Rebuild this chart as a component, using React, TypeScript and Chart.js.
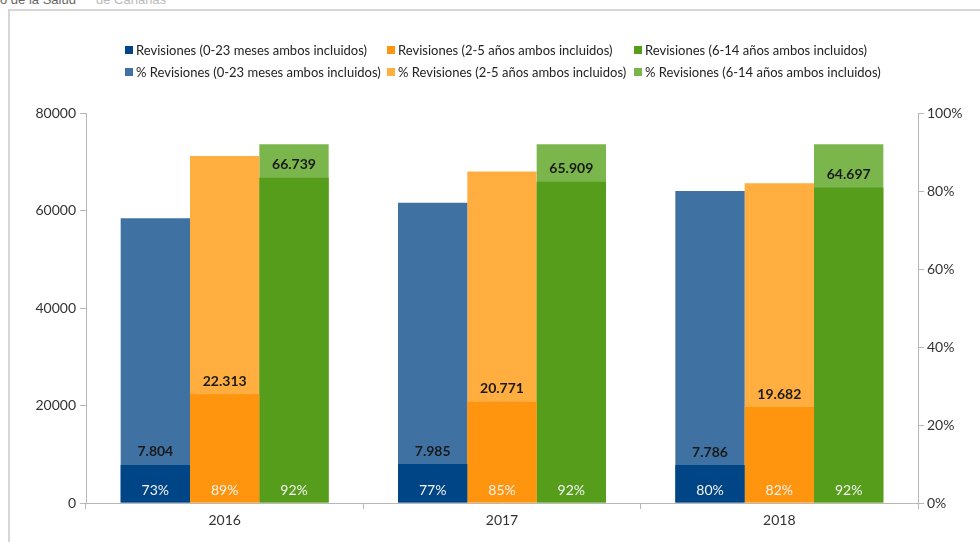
import React, { useEffect, useRef } from 'react';
import { Chart, registerables } from 'chart.js';

Chart.register(...registerables);

const FONT = 'Lato, "DejaVu Sans", sans-serif';

const categories = ['2016', '2017', '2018'];
const seriesLabels = [
  'Revisiones (0-23 meses ambos incluidos)',
  'Revisiones (2-5 años ambos incluidos)',
  'Revisiones (6-14 años ambos incluidos)',
];
const pctSeriesLabels = [
  '% Revisiones (0-23 meses ambos incluidos)',
  '% Revisiones (2-5 años ambos incluidos)',
  '% Revisiones (6-14 años ambos incluidos)',
];
const counts0to23 = [7804, 7985, 7786];
const counts2to5 = [22313, 20771, 19682];
const counts6to14 = [66739, 65909, 64697];
const pct0to23 = [73, 77, 80];
const pct2to5 = [89, 85, 82];
const pct6to14 = [92, 92, 92];

const darkColors = ['#004586', '#ff950e', '#579d1c'];
const lightColors = ['#3f72a3', '#ffae3f', '#7bb64c'];
const stacks = ['a', 'b', 'c'];

const fmt = (n: number) => String(n).replace(/\B(?=(\d{3})+(?!\d))/g, '.');

export default function App() {
  const ref = useRef<HTMLCanvasElement>(null);

  useEffect(() => {
    if (!ref.current) return;
    const labelPlugin = {
      id: 'barLabels',
      afterDatasetsDraw(chart: any) {
        const ctx = chart.ctx;
        chart.data.datasets.forEach((ds: any, i: number) => {
          const meta = chart.getDatasetMeta(i);
          meta.data.forEach((bar: any, j: number) => {
            const v = ds.data[j] as number;
            ctx.save();
            ctx.textAlign = 'center';
            ctx.textBaseline = 'middle';
            if (ds.yAxisID === 'y') {
              ctx.font = `bold 14px ${FONT}`;
              ctx.fillStyle = '#1a1a1a';
              ctx.fillText(fmt(v), bar.x, bar.y - 13);
            } else {
              ctx.font = `14px ${FONT}`;
              ctx.fillStyle = '#f4f4f4';
              ctx.fillText(v + '%', bar.x, bar.base - 12);
            }
            ctx.restore();
          });
        });
      },
    };

    const countSeries = [counts0to23, counts2to5, counts6to14];
    const pctSeries = [pct0to23, pct2to5, pct6to14];
    const datasets: any[] = [];
    countSeries.forEach((d, i) => {
      datasets.push({
        label: seriesLabels[i],
        data: d,
        backgroundColor: darkColors[i],
        yAxisID: 'y',
        stack: stacks[i],
        order: 0,
      });
    });
    pctSeries.forEach((d, i) => {
      datasets.push({
        label: pctSeriesLabels[i],
        data: d,
        backgroundColor: lightColors[i],
        yAxisID: 'y1',
        stack: stacks[i],
        order: 1,
      });
    });

    const tickFont = { family: FONT, size: 14 };
    const axisColor = '#b8b8b8';

    const chart = new Chart(ref.current, {
      type: 'bar',
      data: { labels: categories, datasets },
      options: {
        responsive: false,
        animation: false,
        devicePixelRatio: 1,
        categoryPercentage: 0.75,
        barPercentage: 1,
        layout: { padding: { top: 113, left: 0, right: 0, bottom: 0 } },
        plugins: {
          legend: { display: false },
          tooltip: { enabled: false },
        },
        scales: {
          x: {
            grid: {
              display: true,
              drawOnChartArea: false,
              drawTicks: true,
              tickLength: 6,
              color: axisColor,
              offset: true,
            },
            border: { display: true, color: axisColor },
            ticks: { font: tickFont, color: '#333', padding: 3 },
            afterFit: (s: any) => {
              s.height = 39;
            },
          },
          y: {
            position: 'left',
            min: 0,
            max: 80000,
            stacked: false,
            ticks: {
              stepSize: 20000,
              font: tickFont,
              color: '#333',
              padding: 4,
              callback: (v: any) => String(v),
            },
            grid: { drawOnChartArea: false, tickLength: 6, color: axisColor },
            border: { display: true, color: axisColor },
            afterFit: (s: any) => {
              s.width = 86;
            },
          },
          y1: {
            position: 'right',
            min: 0,
            max: 100,
            stacked: false,
            ticks: {
              stepSize: 20,
              font: tickFont,
              color: '#333',
              padding: 3,
              callback: (v: any) => v + '%',
            },
            grid: { drawOnChartArea: false, tickLength: 6, color: axisColor },
            border: { display: true, color: axisColor },
            afterFit: (s: any) => {
              s.width = 62;
            },
          },
        } as any,
      },
      plugins: [labelPlugin],
    });
    return () => chart.destroy();
  }, []);

  const legendCols = [125, 387, 634];
  const legendRows = [43, 65];
  const legendItems: React.ReactNode[] = [];
  [seriesLabels, pctSeriesLabels].forEach((row, r) => {
    row.forEach((label, c) => {
      legendItems.push(
        <div
          key={`${r}-${c}`}
          style={{
            position: 'absolute',
            left: legendCols[c],
            top: legendRows[r],
            height: 14,
            display: 'flex',
            alignItems: 'center',
            font: `13px ${FONT}`,
            color: '#222',
            whiteSpace: 'nowrap',
          }}
        >
          <span
            style={{
              display: 'inline-block',
              width: 8,
              height: 8,
              background: r === 0 ? darkColors[c] : lightColors[c],
              marginRight: 3,
            }}
          />
          {label}
        </div>
      );
    });
  });

  return (
    <div
      style={{
        position: 'fixed',
        left: 0,
        top: 0,
        width: 980,
        height: 542,
        overflow: 'hidden',
        background: '#fff',
      }}
    >
      <div
        style={{
          position: 'absolute',
          left: 0,
          top: -8,
          font: '13px "Liberation Sans", Arial, sans-serif',
          color: '#666',
          whiteSpace: 'nowrap',
        }}
      >
        o de la Salud
      </div>
      <div
        style={{
          position: 'absolute',
          left: 96,
          top: -8,
          font: '13px "Liberation Sans", Arial, sans-serif',
          color: '#bbb',
          whiteSpace: 'nowrap',
        }}
      >
        de Canarias
      </div>
      <div
        style={{
          position: 'absolute',
          left: 8,
          top: 9,
          width: 1000,
          height: 600,
          borderLeft: '2px solid #d6d6d6',
          borderTop: '2px solid #d6d6d6',
        }}
      />
      <canvas
        ref={ref}
        width={980}
        height={542}
        style={{ position: 'absolute', left: 0, top: 0, width: 980, height: 542 }}
      />
      {legendItems}
    </div>
  );
}
